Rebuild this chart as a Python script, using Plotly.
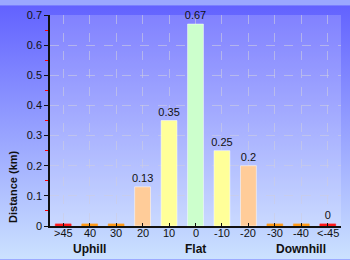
import plotly.graph_objects as go
import base64

categories = [">45", "40", "30", "20", "10", "0", "-10", "-20", "-30", "-40", "<-45"]
distance_km = [0.007, 0.007, 0.007, 0.13, 0.35, 0.67, 0.25, 0.2, 0.007, 0.007, 0.007]
bar_labels = ["", "", "", "0.13", "0.35", "0.67", "0.25", "0.2", "", "", "0"]
bar_colors = ["#ff1a1a", "#ff9a1a", "#ff9a1a", "#ffcc99", "#ffff99", "#ccffcc",
              "#ffff99", "#ffcc99", "#ff9a1a", "#ff9a1a", "#ff1a1a"]
group_titles = ["Uphill", "Flat", "Downhill"]
group_centers = ["40", "0", "-40"]

W, H = 350, 260
ML, MR, MT, MB = 50, 9, 10, 34
PW, PH = W - ML - MR, H - MT - MB

svg = ('<svg xmlns="http://www.w3.org/2000/svg" width="350" height="260">'
       '<defs><linearGradient id="g" x1="0" y1="0" x2="0" y2="1">'
       '<stop offset="0" stop-color="#6262ff"/>'
       '<stop offset="1" stop-color="#cce2ff"/></linearGradient></defs>'
       '<rect width="350" height="260" fill="url(#g)"/></svg>')
src = "data:image/svg+xml;base64," + base64.b64encode(svg.encode()).decode()

line_colors = ["white" if v > 0.01 else c for v, c in zip(distance_km, bar_colors)]

fig = go.Figure()
fig.add_trace(go.Bar(
    x=categories, y=distance_km, text=bar_labels, textposition="outside",
    constraintext="none",
    marker=dict(color=bar_colors, line=dict(color=line_colors, width=0.5)),
    width=0.6, cliponaxis=False,
    textfont=dict(family="Liberation Sans, Arial", size=11, color="#111"),
))

fig.add_layout_image(dict(
    source=src, xref="paper", yref="paper",
    x=-ML / PW, y=1 + MT / PH, sizex=W / PW, sizey=H / PH,
    sizing="stretch", layer="below", xanchor="left", yanchor="top",
))
fig.add_shape(type="rect", xref="paper", yref="paper", x0=0, x1=1, y0=0, y1=1,
              fillcolor="rgba(255,255,255,0.18)", line=dict(width=0), layer="below")

font = dict(family="Liberation Sans, Arial", size=11, color="#111")
fig.update_layout(
    width=W, height=H, margin=dict(l=ML, r=MR, t=MT, b=MB),
    paper_bgcolor="#9aa8ff", plot_bgcolor="rgba(0,0,0,0)",
    showlegend=False, font=font,
    uniformtext=dict(minsize=11, mode="show"),
    xaxis=dict(
        type="category", categoryorder="array", categoryarray=categories,
        range=[-0.5, len(categories) - 0.5],
        showline=True, linecolor="#111", linewidth=1.5,
        ticks="inside", ticklen=3, tickcolor="#111", showticklabels=False,
        showgrid=True, gridcolor="rgba(205,205,225,0.6)", griddash="dash", gridwidth=1,
        fixedrange=True,
    ),
    yaxis=dict(
        range=[0, 0.7], tick0=0, dtick=0.1,
        showline=True, linecolor="#111", linewidth=1.5,
        ticks="outside", ticklen=4, tickcolor="#111",
        showgrid=True, gridcolor="rgba(205,205,225,0.6)", griddash="dash", gridwidth=1,
        zeroline=False, tickfont=font,
        minor=dict(tick0=0, dtick=0.05, ticks="outside", ticklen=3, tickcolor="red", showgrid=False),
    ),
)

for i, c in enumerate(categories):
    fig.add_annotation(x=i, xref="x", y=-(233 - (MT + PH)) / PH, yref="paper",
                       text=c, showarrow=False, font=font, yanchor="middle")

for t, c in zip(group_titles, group_centers):
    fig.add_annotation(x=categories.index(c), xref="x", y=-(250 - (MT + PH)) / PH, yref="paper",
                       text=f"<b>{t}</b>", showarrow=False,
                       font=dict(family="Liberation Sans, Arial", size=12, color="#111"),
                       yanchor="middle")

fig.add_annotation(x=-(ML - 13) / PW, xref="paper", y=1 - (186 - MT) / PH, yref="paper",
                   text="<b>Distance (km)</b>", textangle=-90, showarrow=False,
                   font=dict(family="Liberation Sans, Arial", size=11, color="#111"),
                   xanchor="center", yanchor="middle")

fig.write_html("out.html")
